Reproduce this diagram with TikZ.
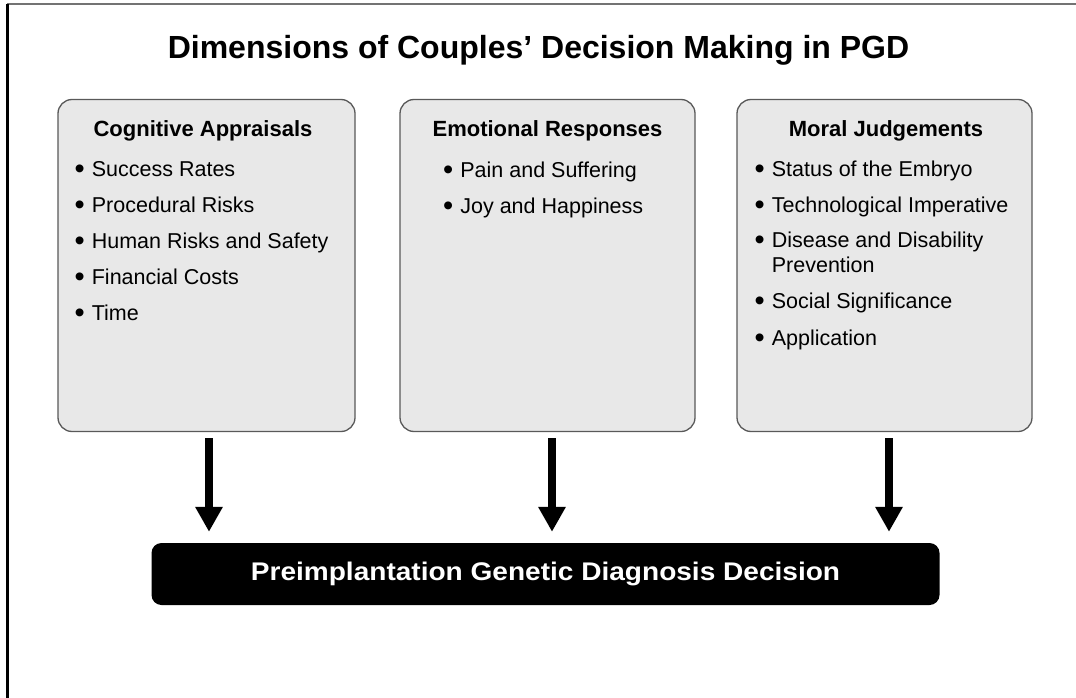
\documentclass[tikz,border=0pt]{standalone}
\usepackage{fontspec}
\setmainfont{Liberation Sans}
\usetikzlibrary{arrows.meta,calc}
\newcommand\bul{\raisebox{-0.12em}{\scalebox{1.35}{\textbullet}}\hspace{7pt}}
\begin{document}
\begin{tikzpicture}[x=1pt,y=-1pt,
  panel/.style={draw=black!65, line width=1.3pt, fill=black!9, rounded corners=14pt,
    minimum height=332pt, inner sep=0pt},
  head/.style={anchor=base, inner sep=0pt, font=\fontsize{22}{26}\selectfont\bfseries},
  item/.style={anchor=base west, inner sep=0pt, font=\fontsize{21.5}{25}\selectfont},
  arr/.style={draw=black, line width=7.5pt, -{Triangle[width=26pt,length=25pt]}},
  decision/.style={fill=black, rounded corners=10pt, minimum width=788pt, minimum height=62pt,
    inner sep=0pt, text=white, font=\fontsize{25.5}{30}\selectfont\bfseries}
]
\useasboundingbox (0,0) rectangle (1076,698);
\fill[white] (0,0) rectangle (1076,698);
\coordinate (fa) at (7,4);
\coordinate (fb) at (1076,4);
\coordinate (fc) at (7,698);
\draw[black!55, line width=2pt] (fa) -- (fb);
\draw[black, line width=3pt] (fa) -- (fc);

\node[anchor=base, inner sep=0pt, font=\fontsize{32}{38}\selectfont\bfseries] (title) at (538.5,59)
  {Dimensions of Couples’ Decision Making in PGD};

% panels
\node[panel, minimum width=297pt] (c1) at (206.5,265.5) {};
\node[panel, minimum width=295pt] (c2) at (547.5,265.5) {};
\node[panel, minimum width=295pt] (c3) at (884.5,265.5) {};

% headings
\node[head] (c1h) at (203,136) {Cognitive Appraisals};
\node[head] (c2h) at (547.5,136.5) {Emotional Responses};
\node[head] (c3h) at (886,136) {Moral Judgements};

% items panel 1
\node[item] (c1a) at (74.5,176) {\bul Success Rates};
\node[item] (c1b) at (74.5,212) {\bul Procedural Risks};
\node[item] (c1c) at (74.5,248) {\bul Human Risks and Safety};
\node[item] (c1d) at (74.5,284) {\bul Financial Costs};
\node[item] (c1e) at (74.5,320) {\bul Time};

% items panel 2
\node[item] (c2a) at (443,177) {\bul Pain and Suffering};
\node[item] (c2b) at (443,213) {\bul Joy and Happiness};

% items panel 3
\node[item] (c3a) at (754.5,176) {\bul Status of the Embryo};
\node[item] (c3b) at (754.5,212) {\bul Technological Imperative};
\node[item] (c3c) at (754.5,247) {\bul\begin{tabular}[t]{@{}l@{}}Disease and Disability\\Prevention\end{tabular}};
\node[item] (c3d) at (754.5,308) {\bul Social Significance};
\node[item] (c3e) at (754.5,345) {\bul Application};

% decision bar
\node[decision] (bar) at (545.5,574) {\scalebox{1.1}[1]{Preimplantation Genetic Diagnosis Decision}};

% arrows
\draw[arr, shorten >=11pt] ([xshift=2.5pt,yshift=-6pt]c1.south) -- ([xshift=2.5pt]c1.south |- bar.north);
\draw[arr, shorten >=11pt] ([xshift=4.5pt,yshift=-6pt]c2.south) -- ([xshift=4.5pt]c2.south |- bar.north);
\draw[arr, shorten >=11pt] ([xshift=4.5pt,yshift=-6pt]c3.south) -- ([xshift=4.5pt]c3.south |- bar.north);
\end{tikzpicture}
\end{document}
